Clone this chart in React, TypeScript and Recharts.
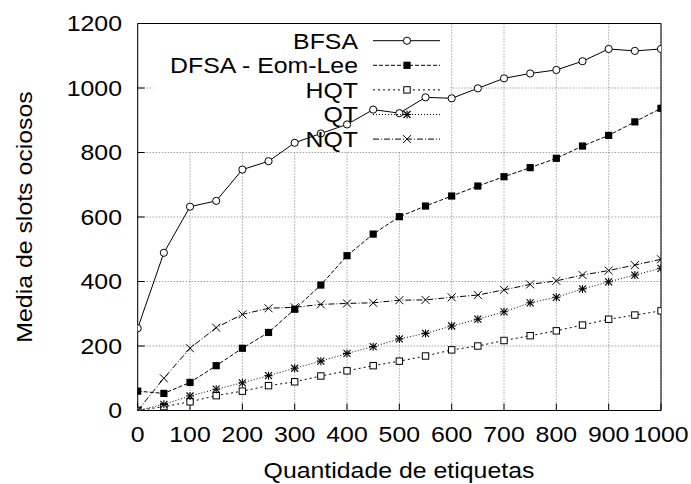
import {
  LineChart,
  Line,
  XAxis,
  YAxis,
  CartesianGrid,
  ReferenceArea,
  Legend,
} from "recharts";

// Quantidade de etiquetas (eixo X)
const quantidades = [
  0, 50, 100, 150, 200, 250, 300, 350, 400, 450, 500, 550, 600, 650, 700, 750,
  800, 850, 900, 950, 1000,
];

// Media de slots ociosos por algoritmo
const bfsa = [
  255, 489, 632, 650, 747, 773, 830, 859, 887, 933, 922, 971, 968, 999, 1030,
  1045, 1056, 1083, 1121, 1115, 1121,
];
const dfsaEomLee = [
  60, 53, 87, 139, 193, 242, 314, 389, 480, 547, 601, 634, 665, 696, 725, 753,
  782, 820, 853, 895, 937,
];
const hqt = [
  0, 12, 27, 46, 60, 77, 89, 107, 123, 139, 153, 169, 188, 200, 217, 232, 247,
  265, 283, 296, 309,
];
const qt = [
  0, 19, 45, 66, 86, 108, 131, 153, 177, 198, 222, 239, 262, 283, 306, 334,
  351, 377, 399, 420, 441,
];
const nqt = [
  0, 100, 193, 257, 298, 317, 320, 329, 332, 334, 342, 343, 351, 358, 374, 391,
  402, 420, 434, 451, 469,
];

const xTicks = [0, 100, 200, 300, 400, 500, 600, 700, 800, 900, 1000];
const yTicks = [0, 200, 400, 600, 800, 1000, 1200];

const dados = quantidades.map((q, i) => ({
  q,
  bfsa: bfsa[i],
  dfsa: dfsaEomLee[i],
  hqt: hqt[i],
  qt: qt[i],
  nqt: nqt[i],
}));

const FONTE = "'Liberation Sans', Arial, Helvetica, sans-serif";
const TAM = 22;
const ESTICA = 1.13; // texto do original e um pouco mais largo

type Marca = "circulo" | "quadradoCheio" | "quadrado" | "estrela" | "xis";

const series: { chave: string; nome: string; traco?: string; marca: Marca }[] = [
  { chave: "bfsa", nome: "BFSA", marca: "circulo" },
  { chave: "dfsa", nome: "DFSA - Eom-Lee", traco: "4 2", marca: "quadradoCheio" },
  { chave: "hqt", nome: "HQT", traco: "2 3", marca: "quadrado" },
  { chave: "qt", nome: "QT", traco: "1 2", marca: "estrela" },
  { chave: "nqt", nome: "NQT", traco: "6 2 1 2", marca: "xis" },
];

// Texto esticado na horizontal em torno do ponto de ancoragem
function Texto({
  x,
  y,
  anchor,
  dy,
  children,
}: {
  x: number;
  y: number;
  anchor: "start" | "middle" | "end";
  dy?: string;
  children: any;
}) {
  return (
    <text
      x={x}
      y={y}
      dy={dy}
      textAnchor={anchor}
      fontFamily={FONTE}
      fontSize={TAM}
      fill="black"
      transform={`translate(${x} ${y}) scale(${ESTICA} 1) translate(${-x} ${-y})`}
    >
      {children}
    </text>
  );
}

function TickX(p: any) {
  return (
    <Texto x={p.x} y={p.y} anchor="middle" dy="0.71em">
      {p.payload.value}
    </Texto>
  );
}

function TickY(p: any) {
  return (
    <Texto x={p.x} y={p.y} anchor="end" dy="0.36em">
      {p.payload.value}
    </Texto>
  );
}

// Desenha o simbolo de cada serie (estilo gnuplot)
function Simbolo({ x, y, marca }: { x: number; y: number; marca: Marca }) {
  if (marca === "circulo")
    return <circle cx={x} cy={y} r={3.6} fill="white" stroke="black" strokeWidth={1} />;
  if (marca === "quadradoCheio")
    return <rect x={x - 3.6} y={y - 3.6} width={7.2} height={7.2} fill="black" />;
  if (marca === "quadrado")
    return (
      <rect x={x - 3.2} y={y - 3.2} width={6.4} height={6.4} fill="white" stroke="black" strokeWidth={1} />
    );
  if (marca === "estrela")
    return (
      <g stroke="black" strokeWidth={1.1}>
        <line x1={x - 4} y1={y} x2={x + 4} y2={y} />
        <line x1={x} y1={y - 4} x2={x} y2={y + 4} />
        <line x1={x - 3.5} y1={y - 3.5} x2={x + 3.5} y2={y + 3.5} />
        <line x1={x - 3.5} y1={y + 3.5} x2={x + 3.5} y2={y - 3.5} />
      </g>
    );
  return (
    <g stroke="black" strokeWidth={1}>
      <line x1={x - 4} y1={y - 4} x2={x + 4} y2={y + 4} />
      <line x1={x - 4} y1={y + 4} x2={x + 4} y2={y - 4} />
    </g>
  );
}

// Legenda no canto superior (key do gnuplot)
function Chave() {
  return (
    <svg width={691} height={160} style={{ display: "block" }}>
      {series.map((s, i) => {
        const y = 40.7 + i * 24.6;
        return (
          <g key={s.chave}>
            <Texto x={358} y={y} anchor="end" dy="0.36em">
              {s.nome}
            </Texto>
            <line x1={373} y1={y} x2={440} y2={y} stroke="black" strokeWidth={1} strokeDasharray={s.traco} />
            <Simbolo x={407} y={y} marca={s.marca} />
          </g>
        );
      })}
    </svg>
  );
}

export default function App() {
  return (
    <div style={{ position: "absolute", left: 0, top: 0, background: "white" }}>
      <LineChart
        width={691}
        height={484}
        data={dados}
        margin={{ top: 13.5, right: 0, bottom: 43.5, left: 0 }}
      >
        {/* Grade pontilhada */}
        <CartesianGrid stroke="#777" strokeDasharray="1 2" />
        {/* Area da chave sem grade */}
        <ReferenceArea x1={29} x2={597} y1={803} y2={1200} fill="white" fillOpacity={1} stroke="none" />
        <XAxis
          dataKey="q"
          type="number"
          domain={[0, 1000]}
          ticks={xTicks}
          allowDataOverflow
          height={30}
          tickSize={-7}
          tickMargin={23}
          tick={TickX}
          stroke="black"
          label={{
            content: () => (
              <Texto x={399} y={478} anchor="middle">
                Quantidade de etiquetas
              </Texto>
            ),
          }}
        />
        <XAxis
          xAxisId="topo"
          orientation="top"
          dataKey="q"
          type="number"
          domain={[0, 1000]}
          ticks={xTicks}
          allowDataOverflow
          height={10}
          tickSize={-7}
          tick={false}
          stroke="black"
        />
        <YAxis
          type="number"
          domain={[0, 1200]}
          ticks={yTicks}
          allowDataOverflow
          width={137.7}
          tickSize={-7}
          tickMargin={22.7}
          tick={TickY}
          stroke="black"
          label={{
            content: () => (
              <text
                x={0}
                y={0}
                transform={`translate(32 217) rotate(-90) scale(${ESTICA} 1)`}
                textAnchor="middle"
                fontFamily={FONTE}
                fontSize={TAM}
                fill="black"
              >
                Media de slots ociosos
              </text>
            ),
          }}
        />
        <YAxis
          yAxisId="dir"
          orientation="right"
          type="number"
          domain={[0, 1200]}
          ticks={yTicks}
          allowDataOverflow
          width={30}
          tickSize={-7}
          tick={false}
          stroke="black"
        />
        {series.map((s) => (
          <Line
            key={s.chave}
            dataKey={s.chave}
            name={s.nome}
            stroke="black"
            strokeWidth={1}
            strokeDasharray={s.traco}
            isAnimationActive={false}
            dot={(p: any) => <Simbolo key={`${s.chave}-${p.index}`} x={p.cx} y={p.cy} marca={s.marca} />}
            activeDot={false}
          />
        ))}
        <Legend
          layout="vertical"
          align="center"
          verticalAlign="middle"
          content={() => <Chave />}
          wrapperStyle={{ position: "absolute", left: 0, top: 0, width: 691, height: 160, pointerEvents: "none" }}
        />
      </LineChart>
    </div>
  );
}
